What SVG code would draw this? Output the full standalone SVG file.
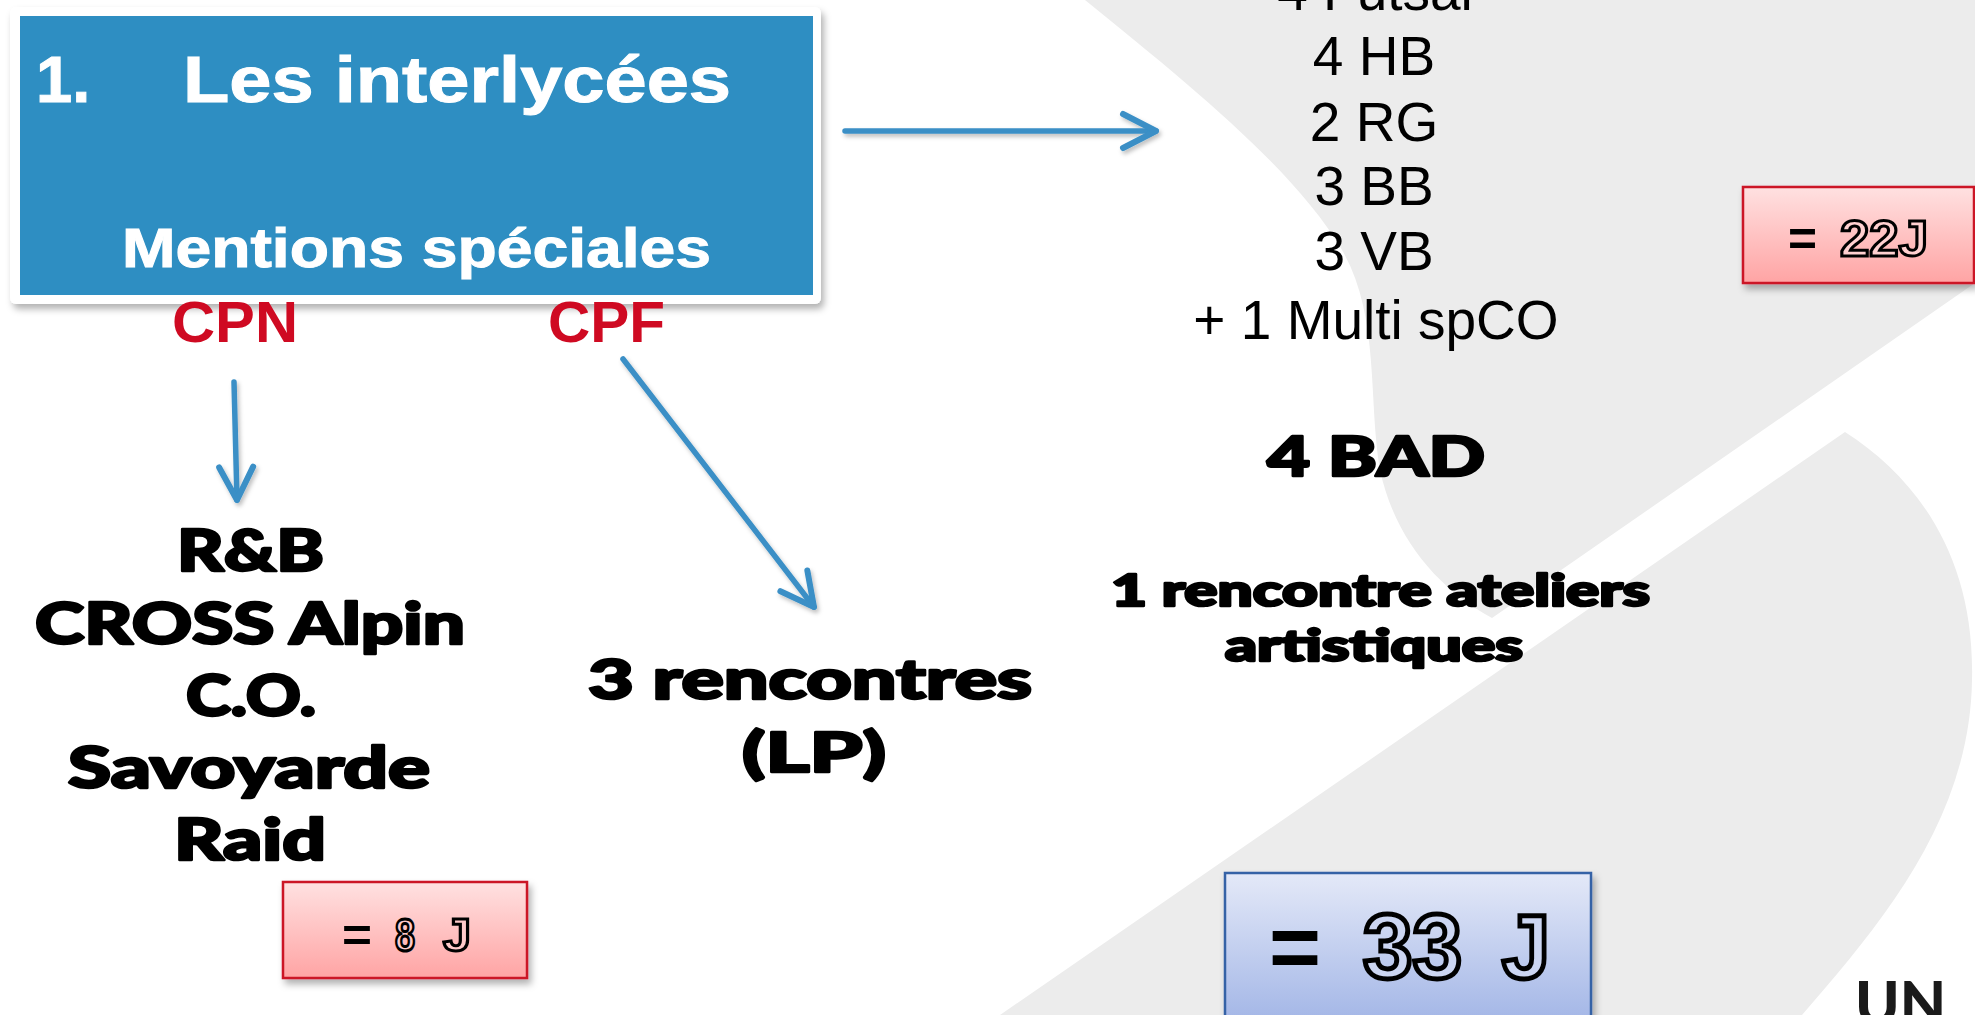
<svg xmlns="http://www.w3.org/2000/svg" width="1975" height="1015" viewBox="0 0 1975 1015">
<style>
  .bg { fill: #ececec; }
  .title { font-family: "Liberation Sans", Arial, sans-serif; font-weight: bold; fill: #ffffff; stroke: #ffffff; stroke-width: 1; }
  .cp { font-family: "Liberation Sans", Arial, sans-serif; font-weight: bold; fill: #cf0a22; font-size: 57px; }
  .heavy { font-family: "Lato", "Inter", "DejaVu Sans", sans-serif; font-weight: 900; fill: #000000; stroke: #000000; stroke-width: 2.5; stroke-linejoin: round; }
  .list { font-family: "Liberation Sans", Arial, sans-serif; font-size: 55px; fill: #000000; text-anchor: middle; }
  .conn { stroke: #3a8fc6; stroke-width: 5.5; fill: none; stroke-linecap: round; }
  .eq { font-family: "Liberation Sans", Arial, sans-serif; font-weight: bold; fill: #000000; }
  .outl { font-family: "Liberation Sans", Arial, sans-serif; font-weight: bold; stroke: #000000; stroke-linejoin: miter; }
  .redbox { fill: url(#gRed); stroke: #cc1428; stroke-width: 2.5; }
  .bluebox { fill: url(#gBlue); stroke: #3462a6; stroke-width: 2.5; }
</style>
<defs>
  <linearGradient id="gRed" x1="0" y1="0" x2="0" y2="1">
    <stop offset="0" stop-color="#ffe1e1"/>
    <stop offset="1" stop-color="#ffa4a4"/>
  </linearGradient>
  <linearGradient id="gBlue" x1="0" y1="0" x2="0" y2="1">
    <stop offset="0" stop-color="#e4e9f8"/>
    <stop offset="1" stop-color="#9aafe4"/>
  </linearGradient>
  <filter id="sh" x="-10%" y="-10%" width="130%" height="140%">
    <feDropShadow dx="3" dy="5" stdDeviation="3.5" flood-color="#000" flood-opacity="0.3"/>
  </filter>
  <filter id="shl" x="-20%" y="-20%" width="140%" height="140%">
    <feDropShadow dx="2" dy="3" stdDeviation="2" flood-color="#000" flood-opacity="0.25"/>
  </filter>
  <marker id="chev" viewBox="-40 -22 46 44" refX="0" refY="0" markerWidth="46" markerHeight="44" markerUnits="userSpaceOnUse" orient="auto">
    <path d="M-33,-17 L0,0 L-33,17" fill="none" stroke="#3a8fc6" stroke-width="6" stroke-linecap="round" stroke-linejoin="round"/>
  </marker>
</defs>

<rect x="0" y="0" width="1975" height="1015" fill="#ffffff"/>
<g id="background">
  <path class="bg" d="M1085,0 C1190,85 1295,170 1342,250 C1380,315 1368,400 1380,470 C1395,540 1440,590 1492,618 L1975,283 L1975,0 Z"/>
  <path class="bg" d="M1845,432 C1920,480 1975,560 1972,680 C1970,820 1880,925 1802,1015 L1000,1015 Z"/>
</g>

<g id="title-box">
  <rect x="10" y="7" width="811" height="297" rx="6" fill="#ffffff" filter="url(#sh)"/>
  <rect x="20" y="16" width="793" height="279" fill="#2e8ec2"/>
  <text class="title" x="36" y="102" font-size="65">1.</text>
  <text class="title" x="183" y="102" font-size="65" textLength="548" lengthAdjust="spacingAndGlyphs">Les interlycées</text>
  <text class="title" x="122" y="267" font-size="55" textLength="589" lengthAdjust="spacingAndGlyphs">Mentions spéciales</text>
</g>

<g id="cpn">
  <text class="cp" x="172" y="342" textLength="126" lengthAdjust="spacingAndGlyphs">CPN</text>
</g>
<g id="cpf">
  <text class="cp" x="548" y="342" textLength="117" lengthAdjust="spacingAndGlyphs">CPF</text>
</g>

<g id="connectors" filter="url(#shl)">
  <line class="conn" x1="845" y1="131" x2="1156" y2="131" marker-end="url(#chev)"/>
  <line class="conn" x1="234" y1="382" x2="237" y2="500" marker-end="url(#chev)"/>
  <line class="conn" x1="623" y1="359" x2="814" y2="607" marker-end="url(#chev)"/>
</g>

<g id="cpn-list">
  <text class="heavy" x="177" y="571" font-size="57" textLength="147" lengthAdjust="spacingAndGlyphs">R&amp;B</text>
  <text class="heavy" x="35" y="644" font-size="57" textLength="430" lengthAdjust="spacingAndGlyphs">CROSS Alpin</text>
  <text class="heavy" x="186" y="716" font-size="57" textLength="130" lengthAdjust="spacingAndGlyphs">C.O.</text>
  <text class="heavy" x="68" y="788" font-size="57" textLength="362" lengthAdjust="spacingAndGlyphs">Savoyarde</text>
  <text class="heavy" x="174" y="860" font-size="57" textLength="152" lengthAdjust="spacingAndGlyphs">Raid</text>
</g>

<g id="cpf-list">
  <text class="heavy" x="588" y="699" font-size="55" textLength="444" lengthAdjust="spacingAndGlyphs">3 rencontres</text>
  <text class="heavy" x="742" y="772" font-size="55" textLength="144" lengthAdjust="spacingAndGlyphs">(LP)</text>
</g>

<g id="sports-list">
  <text class="list" x="1375" y="10">4 Futsal</text>
  <text class="list" x="1374" y="75">4 HB</text>
  <text class="list" x="1374" y="141">2 RG</text>
  <text class="list" x="1374" y="205">3 BB</text>
  <text class="list" x="1374" y="270">3 VB</text>
  <text class="list" x="1376" y="339">+ 1 Multi spCO</text>
</g>

<g id="bad">
  <text class="heavy" x="1267" y="476" font-size="56" stroke-width="3" textLength="218" lengthAdjust="spacingAndGlyphs">4 BAD</text>
</g>

<g id="ateliers">
  <text class="heavy" x="1111" y="606" font-size="43" textLength="539" lengthAdjust="spacingAndGlyphs">1 rencontre ateliers</text>
  <text class="heavy" x="1225" y="661" font-size="43" textLength="298" lengthAdjust="spacingAndGlyphs">artistiques</text>
</g>

<g id="box-22j">
  <rect class="redbox" x="1743" y="187" width="231" height="96" filter="url(#sh)"/>
  <text class="eq" x="1788" y="256" font-size="50" textLength="29" lengthAdjust="spacingAndGlyphs">=</text>
  <text class="outl" x="1840" y="256" font-size="50" fill="#ffd0d0" stroke-width="3" textLength="88" lengthAdjust="spacingAndGlyphs">22J</text>
</g>

<g id="box-8j">
  <rect class="redbox" x="283" y="882" width="244" height="96" filter="url(#sh)"/>
  <text class="eq" x="342" y="951" font-size="47" textLength="30" lengthAdjust="spacingAndGlyphs">=</text>
  <text class="outl" x="395" y="951" font-size="47" fill="#ffcaca" stroke-width="3" textLength="20" lengthAdjust="spacingAndGlyphs">8</text>
  <text class="outl" x="443" y="951" font-size="47" fill="#ffcaca" stroke-width="3" textLength="28" lengthAdjust="spacingAndGlyphs">J</text>
</g>

<g id="box-33j">
  <rect class="bluebox" x="1225" y="873" width="366" height="170" filter="url(#sh)"/>
  <text class="eq" x="1269" y="978" font-size="90" textLength="52" lengthAdjust="spacingAndGlyphs">=</text>
  <text class="outl" x="1363" y="978" font-size="90" fill="#ccd6f2" stroke-width="5" textLength="99" lengthAdjust="spacingAndGlyphs">33</text>
  <text class="outl" x="1502" y="978" font-size="90" fill="#ccd6f2" stroke-width="5" textLength="48" lengthAdjust="spacingAndGlyphs">J</text>
</g>

<g id="logo">
  <text x="1855" y="1025" font-family="Lato, Inter, 'DejaVu Sans', sans-serif" font-weight="900" font-size="60" fill="#1a1a1a">UN</text>
</g>
</svg>
